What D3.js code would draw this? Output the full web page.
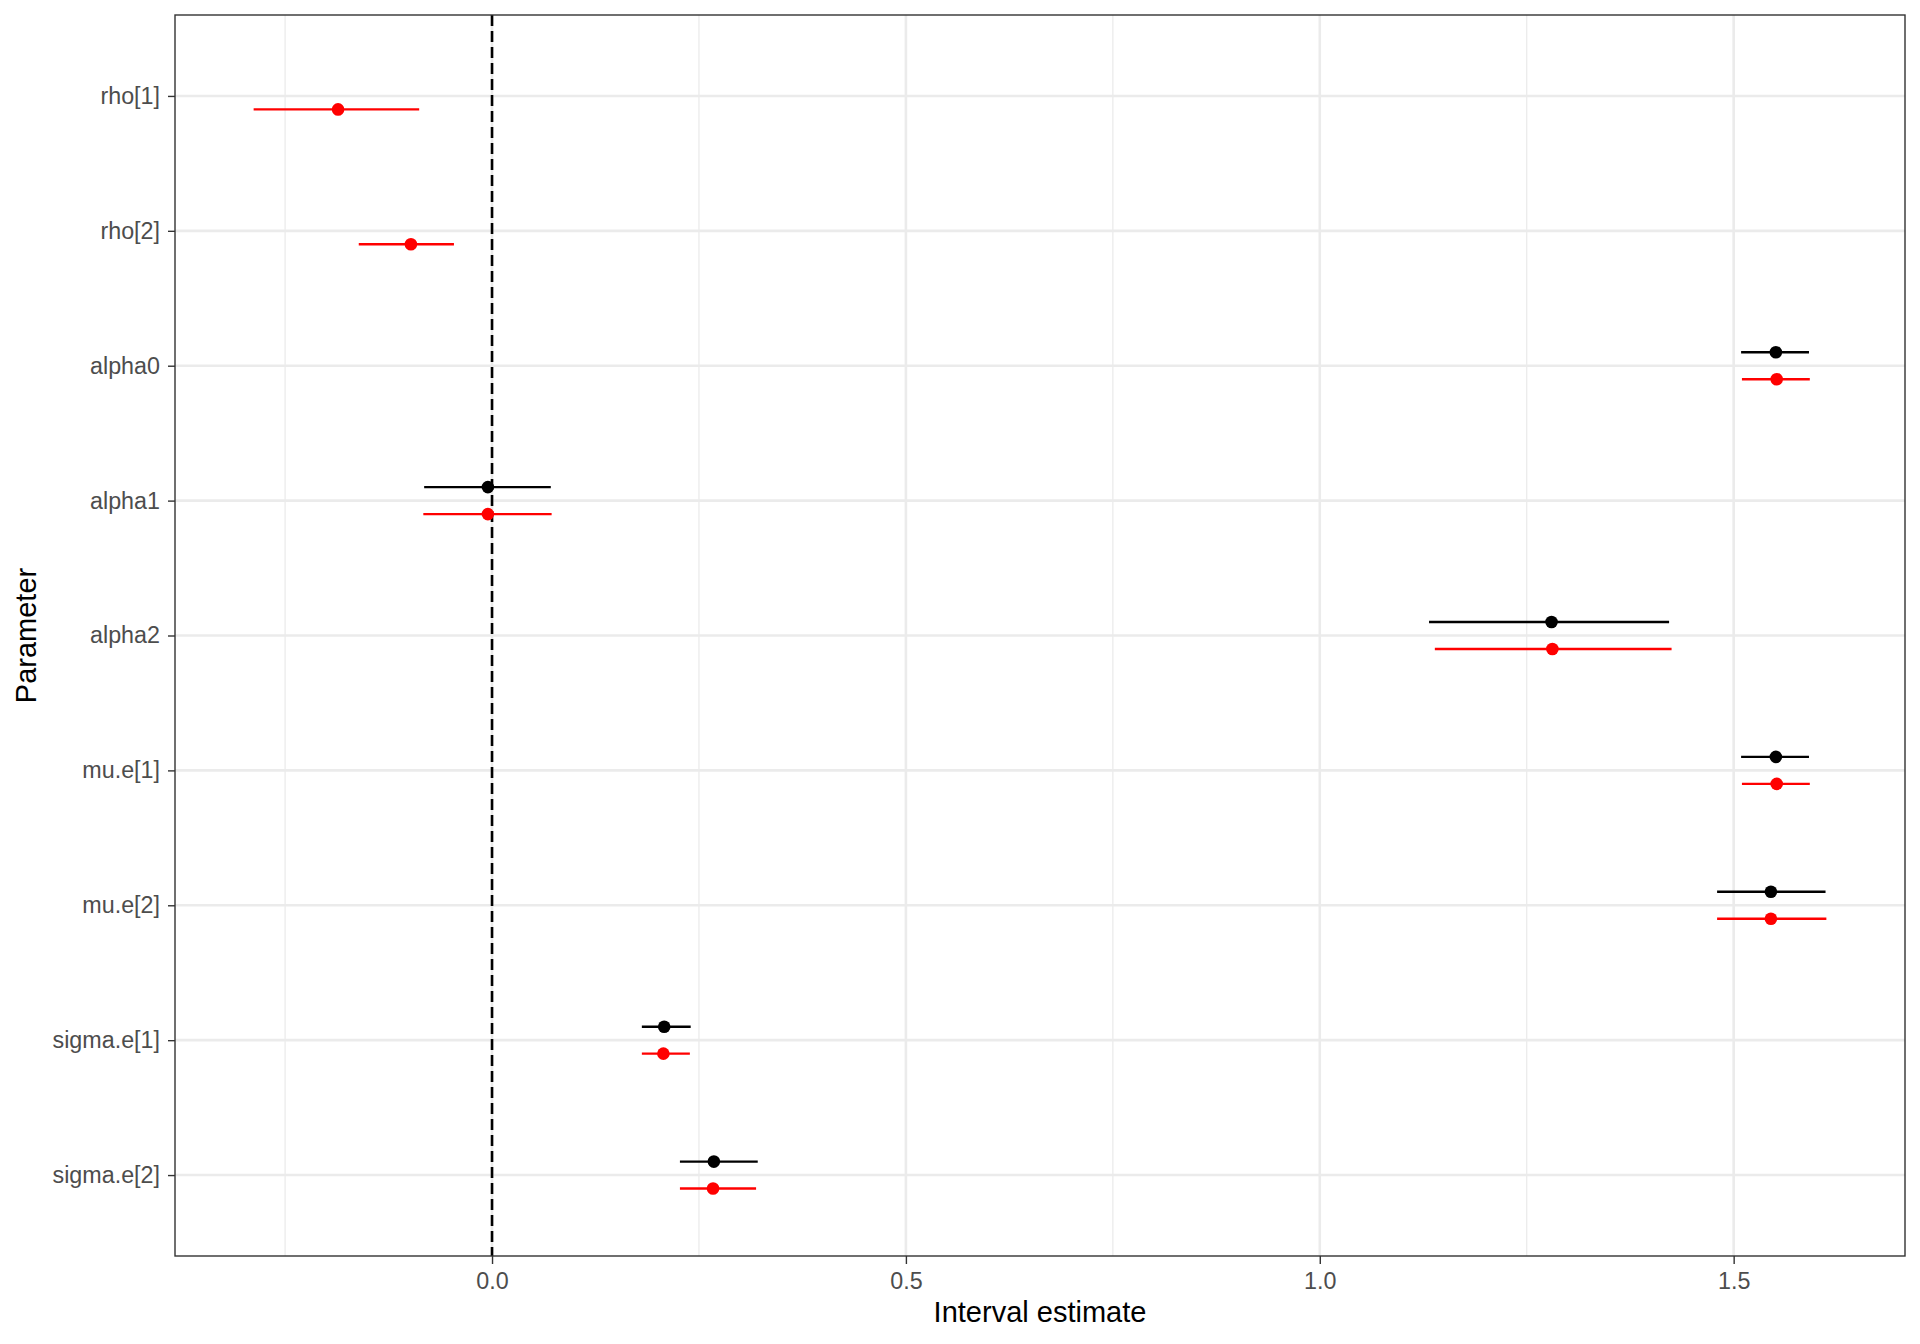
<!DOCTYPE html>
<html lang="en">
<head>
    <meta charset="UTF-8">
    <title>Interval estimates</title>
    <script src="https://d3js.org/d3.v7.min.js"></script>
    <style>
        body {
            margin: 0;
            background: white;
        }
        text {
            font-family: "Liberation Sans", Arial, Helvetica, sans-serif;
        }
        .axis text {
            fill: #4d4d4d;
            font-size: 23.3px;
        }
        .axis line {
            stroke: #333333;
            stroke-width: 1.4px;
        }
        .axis path.domain {
            display: none;
        }
        .title {
            fill: black;
            font-size: 29px;
        }
    </style>
</head>
<body>
<script>
    // parameters, top to bottom
    var params = ["rho[1]", "rho[2]", "alpha0", "alpha1", "alpha2",
                  "mu.e[1]", "mu.e[2]", "sigma.e[1]", "sigma.e[2]"];

    // first fit (black), no rho estimates
    var blackEst  = [null, null, 1.551, -0.005, 1.280, 1.551, 1.545, 0.208, 0.268];
    var blackLow  = [null, null, 1.509, -0.082, 1.132, 1.509, 1.480, 0.181, 0.227];
    var blackHigh = [null, null, 1.591,  0.071, 1.422, 1.591, 1.611, 0.240, 0.321];

    // second fit (red)
    var redEst  = [-0.186, -0.098, 1.552, -0.005, 1.281, 1.552, 1.545, 0.207, 0.267];
    var redLow  = [-0.288, -0.161, 1.510, -0.083, 1.139, 1.510, 1.480, 0.181, 0.227];
    var redHigh = [-0.088, -0.046, 1.592,  0.072, 1.425, 1.592, 1.612, 0.239, 0.319];

    var xTicks = [0, 0.5, 1, 1.5];
    var xMinor = [-0.25, 0.25, 0.75, 1.25];

    var width = 1920;
    var height = 1344;
    var panel = {left: 175, right: 1905, top: 15, bottom: 1256};

    // build the rows for both series
    var series = [
        {name: "black", color: "black", offset: -0.1, est: blackEst, low: blackLow, high: blackHigh},
        {name: "red", color: "#ff0000", offset: 0.1, est: redEst, low: redLow, high: redHigh}
    ];
    var rows = [];
    series.forEach(function (s) {
        params.forEach(function (p, i) {
            if (s.est[i] !== null) {
                rows.push({param: p, series: s, est: s.est[i], low: s.low[i], high: s.high[i]});
            }
        });
    });

    var lo = d3.min(rows, function (d) { return d.low; });
    var hi = d3.max(rows, function (d) { return d.high; });
    var pad = (hi - lo) * 0.05;

    var xScale = d3.scaleLinear()
            .domain([lo - pad, hi + pad])
            .range([panel.left, panel.right]);
    var yScale = d3.scalePoint()
            .domain(params)
            .range([panel.top, panel.bottom])
            .padding(0.6);
    var step = yScale.step();

    var svg = d3.select("body").append("svg")
            .attr("width", width)
            .attr("height", height);

    // grid
    var grid = svg.append("g");
    grid.selectAll(".minor")
            .data(xMinor)
            .enter().append("line")
            .attr("x1", function (d) { return xScale(d); })
            .attr("x2", function (d) { return xScale(d); })
            .attr("y1", panel.top).attr("y2", panel.bottom)
            .attr("stroke", "#ebebeb").attr("stroke-width", 1.3);
    grid.selectAll(".majorx")
            .data(xTicks)
            .enter().append("line")
            .attr("x1", function (d) { return xScale(d); })
            .attr("x2", function (d) { return xScale(d); })
            .attr("y1", panel.top).attr("y2", panel.bottom)
            .attr("stroke", "#ebebeb").attr("stroke-width", 2.6);
    grid.selectAll(".majory")
            .data(params)
            .enter().append("line")
            .attr("y1", function (d) { return yScale(d); })
            .attr("y2", function (d) { return yScale(d); })
            .attr("x1", panel.left).attr("x2", panel.right)
            .attr("stroke", "#ebebeb").attr("stroke-width", 2.6);

    // reference line at zero
    svg.append("line")
            .attr("x1", xScale(0)).attr("x2", xScale(0))
            .attr("y1", panel.top).attr("y2", panel.bottom)
            .attr("stroke", "black")
            .attr("stroke-width", 2.6)
            .attr("stroke-dasharray", "11,5");

    var entries = svg.selectAll(".entry")
            .data(rows)
            .enter().append("g")
            .attr("class", "entry");

    entries.append("line")
            .attr("x1", function (d) { return xScale(d.low); })
            .attr("x2", function (d) { return xScale(d.high); })
            .attr("y1", function (d) { return yScale(d.param) + d.series.offset * step; })
            .attr("y2", function (d) { return yScale(d.param) + d.series.offset * step; })
            .attr("stroke", function (d) { return d.series.color; })
            .attr("stroke-width", 2.4);

    entries.append("circle")
            .attr("cx", function (d) { return xScale(d.est); })
            .attr("cy", function (d) { return yScale(d.param) + d.series.offset * step; })
            .attr("r", 6.3)
            .attr("fill", function (d) { return d.series.color; });

    // panel border
    svg.append("rect")
            .attr("x", panel.left).attr("y", panel.top)
            .attr("width", panel.right - panel.left)
            .attr("height", panel.bottom - panel.top)
            .attr("fill", "none")
            .attr("stroke", "#333333")
            .attr("stroke-width", 1.4);

    // axes
    svg.append("g")
            .attr("class", "axis")
            .attr("transform", "translate(0," + panel.bottom + ")")
            .call(d3.axisBottom(xScale)
                    .tickValues(xTicks)
                    .tickFormat(d3.format(".1f"))
                    .tickSize(8)
                    .tickPadding(8));

    svg.append("g")
            .attr("class", "axis")
            .attr("transform", "translate(" + panel.left + ",0)")
            .call(d3.axisLeft(yScale)
                    .tickSize(7)
                    .tickPadding(8));

    svg.append("text")
            .attr("class", "title")
            .attr("x", (panel.left + panel.right) / 2)
            .attr("y", 1322)
            .attr("text-anchor", "middle")
            .text("Interval estimate");

    svg.append("text")
            .attr("class", "title")
            .attr("transform", "translate(26," + ((panel.top + panel.bottom) / 2) + ") rotate(-90)")
            .attr("dy", "0.36em")
            .attr("text-anchor", "middle")
            .text("Parameter");
</script>
</body>
</html>
